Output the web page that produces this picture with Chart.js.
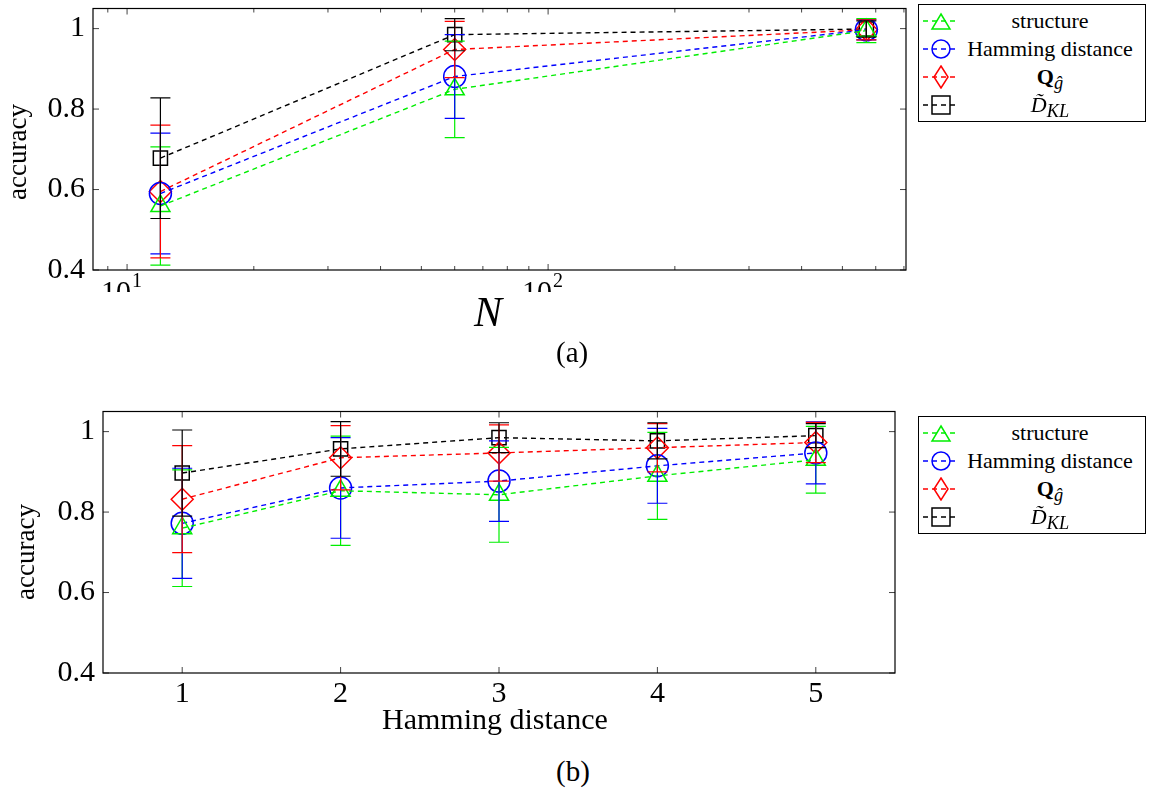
<!DOCTYPE html>
<html>
<head>
<meta charset="utf-8">
<script src="https://cdn.jsdelivr.net/npm/chart.js@4.4.0/dist/chart.umd.min.js"></script>
<style>
body { margin:0; background:#fff; font-family:"Liberation Serif", serif; overflow:hidden; }
.wrap { position:absolute; left:0; width:1152px; }
.lbl { position:absolute; font-family:"Liberation Serif", serif; color:#000; white-space:nowrap; }
.legend { position:absolute; left:918px; width:226px; border:1px solid #000; background:#fff; font-size:22px; padding:2px 0; }
.legend div { height:28px; line-height:28px; position:relative; white-space:nowrap; }
.legend svg { position:absolute; left:4px; top:2px; }
.legend span { position:absolute; left:38px; right:2px; text-align:center; }
</style>
</head>
<body>
<div class="wrap" style="top:-4px;height:296px"><canvas id="c1"></canvas></div>
<div class="wrap" style="top:399px;height:311px"><canvas id="c2"></canvas></div>
<div class="lbl" style="left:474px;top:288px;font-size:42px;font-style:italic">N</div>
<div class="lbl" style="left:556px;top:336px;font-size:29px">(a)</div>
<div class="lbl" style="left:382px;top:702px;font-size:30px">Hamming distance</div>
<div class="lbl" style="left:556px;top:755px;font-size:29px">(b)</div>
<div class="lbl" style="left:2px;top:200px;font-size:27px;transform:rotate(-90deg);transform-origin:left top">accuracy</div>
<div class="lbl" style="left:10px;top:600px;font-size:27px;transform:rotate(-90deg);transform-origin:left top">accuracy</div>
<div class="legend" id="lg1" style="top:4px"></div>
<div class="legend" id="lg2" style="top:416px"></div>
<script>
// top chart: accuracy vs N
var nValues = [12, 60, 570];
var structA = [0.559, 0.849, 0.995];
var structAErr = [0.147, 0.12, 0.03];
var hammA = [0.59, 0.881, 0.997];
var hammAErr = [0.15, 0.104, 0.025];
var qA = [0.595, 0.948, 0.997];
var qAErr = [0.165, 0.07, 0.025];
var dklA = [0.678, 0.985, 0.999];
var dklAErr = [0.15, 0.04, 0.02];

// bottom chart: accuracy vs Hamming distance
var hdValues = [1, 2, 3, 4, 5];
var structB = [0.76, 0.853, 0.843, 0.89, 0.93];
var structBErr = [0.145, 0.136, 0.118, 0.108, 0.083];
var hammB = [0.772, 0.86, 0.877, 0.915, 0.947];
var hammBErr = [0.137, 0.125, 0.1, 0.093, 0.077];
var qB = [0.832, 0.935, 0.947, 0.96, 0.973];
var qBErr = [0.133, 0.08, 0.07, 0.06, 0.05];
var dklB = [0.897, 0.957, 0.985, 0.977, 0.99];
var dklBErr = [0.107, 0.068, 0.037, 0.045, 0.03];

var yTicks = [0.4, 0.6, 0.8, 1];
var yLabels = ['0.4', '0.6', '0.8', '1'];
var names = ['structure', 'Hamming distance', '<b>Q</b><sub><i>&#285;</i></sub>', '<i>D&#771;</i><sub><i>KL</i></sub>'];
var colors = ['#00ee00', '#0000ff', '#ff0000', '#000000'];
var styles = ['triangle', 'circle', 'rectRot', 'rect'];

function mkSets(xs, ys, errs) {
  return ys.map(function(y, i) {
    return {
      data: xs.map(function(x, j) { return { x: x, y: y[j] }; }),
      err: errs[i],
      borderColor: colors[i], backgroundColor: 'rgba(0,0,0,0)',
      borderWidth: 1.4, borderDash: [5, 4],
      pointStyle: styles[i], pointRadius: i == 3 ? 10 : 11, pointBorderWidth: 1.5,
      pointBorderColor: colors[i], pointBackgroundColor: 'rgba(0,0,0,0)'
    };
  });
}

var frame = {
  id: 'frame',
  afterDatasetsDraw: function(chart) {
    var ctx = chart.ctx, a = chart.chartArea, xs = chart.scales.x, ys = chart.scales.y;
    ctx.save();
    // error bars
    chart.data.datasets.forEach(function(ds) {
      ctx.strokeStyle = ds.borderColor; ctx.lineWidth = 1.2;
      ds.data.forEach(function(p, j) {
        var px = xs.getPixelForValue(p.x);
        var t = ys.getPixelForValue(p.y + ds.err[j]), b = ys.getPixelForValue(p.y - ds.err[j]);
        ctx.beginPath();
        ctx.moveTo(px, t); ctx.lineTo(px, b);
        ctx.moveTo(px - 10, t); ctx.lineTo(px + 10, t);
        ctx.moveTo(px - 10, b); ctx.lineTo(px + 10, b);
        ctx.stroke();
      });
    });
    // inward ticks and box
    ctx.strokeStyle = '#444'; ctx.lineWidth = 1;
    var xt = chart.options.xMajor, xm = chart.options.xMinor || [];
    function vt(v, len) {
      var px = xs.getPixelForValue(v);
      ctx.beginPath(); ctx.moveTo(px, a.bottom); ctx.lineTo(px, a.bottom - len);
      ctx.moveTo(px, a.top); ctx.lineTo(px, a.top + len); ctx.stroke();
    }
    xt.forEach(function(v) { vt(v, 6); });
    xm.forEach(function(v) { vt(v, 4); });
    ctx.fillStyle = '#000';
    ctx.font = '30px Liberation Serif, serif';
    ctx.textAlign = 'right'; ctx.textBaseline = 'middle';
    yTicks.forEach(function(v, k) {
      var py = ys.getPixelForValue(v);
      ctx.beginPath(); ctx.moveTo(a.left, py); ctx.lineTo(a.left + 6, py);
      ctx.moveTo(a.right, py); ctx.lineTo(a.right - 6, py); ctx.stroke();
      ctx.fillText(yLabels[k], a.left - 8, py);
    });
    // x tick labels
    ctx.textBaseline = 'top';
    chart.options.xLabels.forEach(function(l, k) {
      var px = xs.getPixelForValue(xt[k]);
      if (l.sup) {
        ctx.textAlign = 'right'; ctx.font = '30px Liberation Serif, serif';
        ctx.fillText(l.base, px + 4, a.bottom + 8);
        ctx.textAlign = 'left'; ctx.font = '20px Liberation Serif, serif';
        ctx.fillText(l.sup, px + 5, a.bottom + 2);
      } else {
        ctx.textAlign = 'center'; ctx.font = '30px Liberation Serif, serif';
        ctx.fillText(l.base, px, a.bottom + 6);
      }
    });
    ctx.strokeStyle = '#000'; ctx.lineWidth = 1.2;
    ctx.strokeRect(a.left, a.top, a.right - a.left, a.bottom - a.top);
    ctx.restore();
  }
};

function yAxis(w) {
  return {
    min: 0.4, max: 1.05,
    afterBuildTicks: function(s) { s.ticks = yTicks.map(function(v) { return { value: v }; }); },
    afterFit: function(s) { s.width = w; },
    grid: { display: false }, border: { display: false },
    ticks: { color: 'rgba(0,0,0,0)' }
  };
}

var minorA = [9, 20, 30, 40, 50, 60, 70, 80, 90, 200, 300, 400, 500, 600, 700];
new Chart(document.getElementById('c1'), {
  type: 'line',
  data: { datasets: mkSets(nValues, [structA, hammA, qA, dklA], [structAErr, hammAErr, qAErr, dklAErr]) },
  options: {
    responsive: true, maintainAspectRatio: false, animation: false,
    xMajor: [10, 100], xMinor: minorA,
    xLabels: [{ base: '10', sup: '1' }, { base: '10', sup: '2' }],
    layout: { padding: { top: 0, right: 246, left: 0, bottom: 0 } },
    plugins: { legend: { display: false }, tooltip: { enabled: false } },
    scales: {
      x: { type: 'logarithmic', min: 8.3, max: 708,
        afterBuildTicks: function(s) { s.ticks = [{ value: 10 }, { value: 100 }]; },
        afterFit: function(s) { s.height = 22; },
        grid: { display: false }, border: { display: false },
        ticks: { color: 'rgba(0,0,0,0)' } },
      y: yAxis(93)
    }
  },
  plugins: [frame]
});

new Chart(document.getElementById('c2'), {
  type: 'line',
  data: { datasets: mkSets(hdValues, [structB, hammB, qB, dklB], [structBErr, hammBErr, qBErr, dklBErr]) },
  options: {
    responsive: true, maintainAspectRatio: false, animation: false,
    xMajor: hdValues,
    xLabels: hdValues.map(function(v) { return { base: String(v) }; }),
    layout: { padding: { top: 4, right: 257, left: 0, bottom: 0 } },
    plugins: { legend: { display: false }, tooltip: { enabled: false } },
    scales: {
      x: { type: 'linear', min: 0.5, max: 5.5,
        afterBuildTicks: function(s) { s.ticks = hdValues.map(function(v) { return { value: v }; }); },
        afterFit: function(s) { s.height = 37; },
        grid: { display: false }, border: { display: false },
        ticks: { color: 'rgba(0,0,0,0)' } },
      y: yAxis(103)
    }
  },
  plugins: [frame]
});

function marker(i) {
  var c = colors[i], m;
  if (i == 0) m = '<polygon points="18,5 27,20 9,20" fill="none" stroke="' + c + '" stroke-width="1.5"/>';
  else if (i == 1) m = '<circle cx="18" cy="12" r="9" fill="none" stroke="' + c + '" stroke-width="1.5"/>';
  else if (i == 2) m = '<polygon points="18,1 25,12 18,23 11,12" fill="none" stroke="' + c + '" stroke-width="1.5"/>';
  else m = '<rect x="9" y="3" width="18" height="18" fill="none" stroke="' + c + '" stroke-width="1.5"/>';
  return '<svg width="36" height="24"><line x1="0" y1="12" x2="36" y2="12" stroke="' + c + '" stroke-width="1.4" stroke-dasharray="5,4"/>' + m + '</svg>';
}
['lg1', 'lg2'].forEach(function(id) {
  document.getElementById(id).innerHTML = names.map(function(n, i) {
    return '<div>' + marker(i) + '<span>' + n + '</span></div>';
  }).join('');
});
</script>
</body>
</html>
